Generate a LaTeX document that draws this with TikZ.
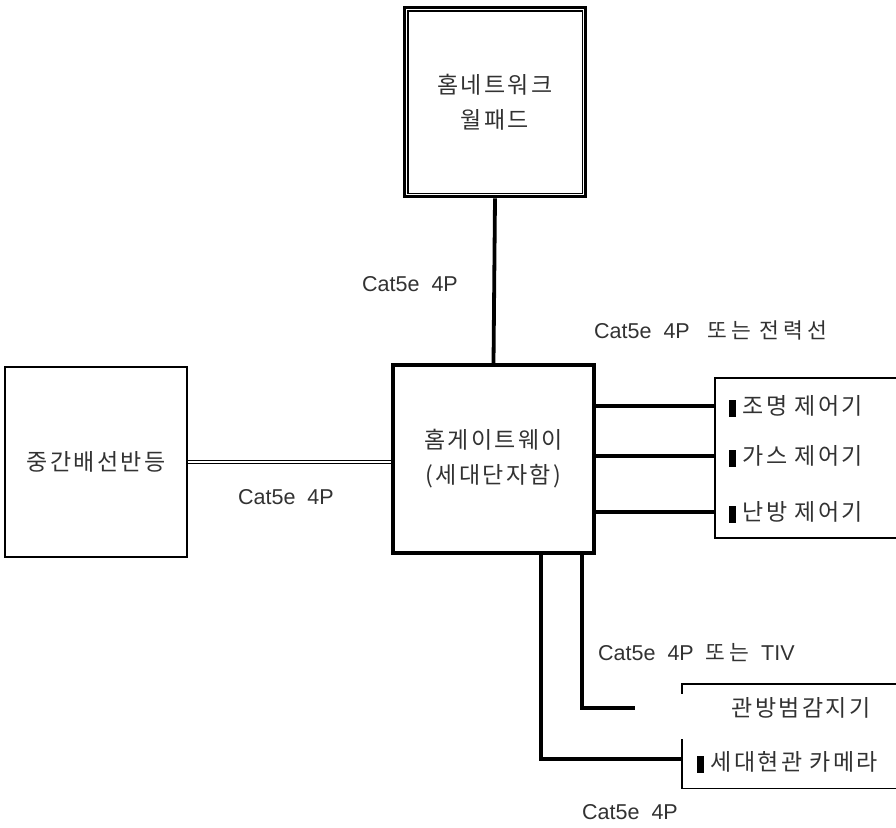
\documentclass[tikz,border=0pt]{standalone}
\usepackage{fontspec}
\setmainfont{Liberation Sans}
\newfontfamily\kr[LetterSpace=10]{Noto Sans CJK KR}
\newfontfamily\krw[LetterSpace=18]{Noto Sans CJK KR}
\definecolor{txt}{RGB}{50,50,50}
\newcommand{\mk}{{\color{black}\rule[-2pt]{6.5pt}{17pt}}\hspace*{7pt}}
\begin{document}
\begin{tikzpicture}[x=1pt,y=-1pt,
  every node/.style={text=txt},
  thinbox/.style={draw=black, line width=1.6pt, inner sep=0pt},
  gwbox/.style={draw=black, line width=3.8pt, inner sep=0pt},
  wire/.style={draw=black, line width=3.8pt},
  lbl/.style={inner sep=0pt, font=\fontsize{21.5}{24}\selectfont},
  ttl/.style={font=\kr\fontsize{23}{35}\selectfont, align=center},
  item/.style={inner sep=0pt, anchor=west, font=\kr\fontsize{23}{24}\selectfont}]
\useasboundingbox (0,0) rectangle (896,827);
\clip (0,0) rectangle (896,827);
% boxes
\node[gwbox, minimum width=181pt, minimum height=189pt] (wp) at (495,102) {};
\node[ttl] at (wp.center) {홈네트워크\\월패드};
\draw[black, line width=1.8pt] ([shift={(5,5)}]wp.north west) rectangle ([shift={(-5,-5)}]wp.south east);
\node[thinbox, minimum width=182pt, minimum height=190pt] (mdf) at (96,462) {};
\node[ttl] at (mdf.center) {중간배선반등};
\node[gwbox, minimum width=201pt, minimum height=188pt] (gw) at (493.5,459) {};
\node[ttl] at (gw.center) {홈게이트웨이\\(세대단자함)};
\node[thinbox, anchor=north west, minimum width=230pt, minimum height=160pt] (ctrl) at (714,377) {};
\node[inner sep=0pt, anchor=north west, minimum width=230pt, minimum height=104pt] (sbox) at (682,684) {};
\draw[black, line width=1.6pt] (sbox.north east) -- (sbox.north west) -- ++(0,10);
\draw[black, line width=1.6pt] (sbox.south east) -- (sbox.south west) -- ++(0,-49);
% items
\node[item] (c1) at (729,406) {\mk 조명 제어기};
\node[item] (c2) at (729,456) {\mk 가스 제어기};
\node[item] (c3) at (729,512) {\mk 난방 제어기};
\node[ttl] (sens) at (801,708) {관방범감지기};
\node[item] (cam) at (697,762) {\mk 세대현관 카메라};
% connectors
\draw[wire] (wp.south) -- (gw.north);
\draw[black, line width=1.4pt, double=white, double distance=2pt] (mdf.east) -- (mdf.east -| gw.west);
\draw[wire] (gw.east |- c1) -- (ctrl.west |- c1);
\draw[wire] (gw.east |- c2) -- (ctrl.west |- c2);
\draw[wire] (gw.east |- c3) -- (ctrl.west |- c3);
\coordinate (sEnd) at (635,708);
\coordinate (cEnd) at (682,759);
\coordinate (sx) at (582,0);
\coordinate (cx) at (541,0);
\draw[wire] (gw.south -| sx) |- (sEnd);
\draw[wire] (gw.south -| cx) |- (cEnd);
% labels
\node[lbl, anchor=west] (l1) at (362,284) {Cat5e\ \ 4P};
\node[lbl, anchor=west] (l2) at (594,330) {Cat5e\ \ 4P\ \ \ {\krw 또는\ 전력선}};
\node[lbl, anchor=west] (l3) at (238,497) {Cat5e\ \ 4P};
\node[lbl, anchor=west] (l4) at (598,653) {Cat5e\ \ 4P\ \ {\krw 또는}\ \ TIV};
\node[lbl, anchor=west] (l5) at (582,812) {Cat5e\ \ 4P};
\end{tikzpicture}
\end{document}
